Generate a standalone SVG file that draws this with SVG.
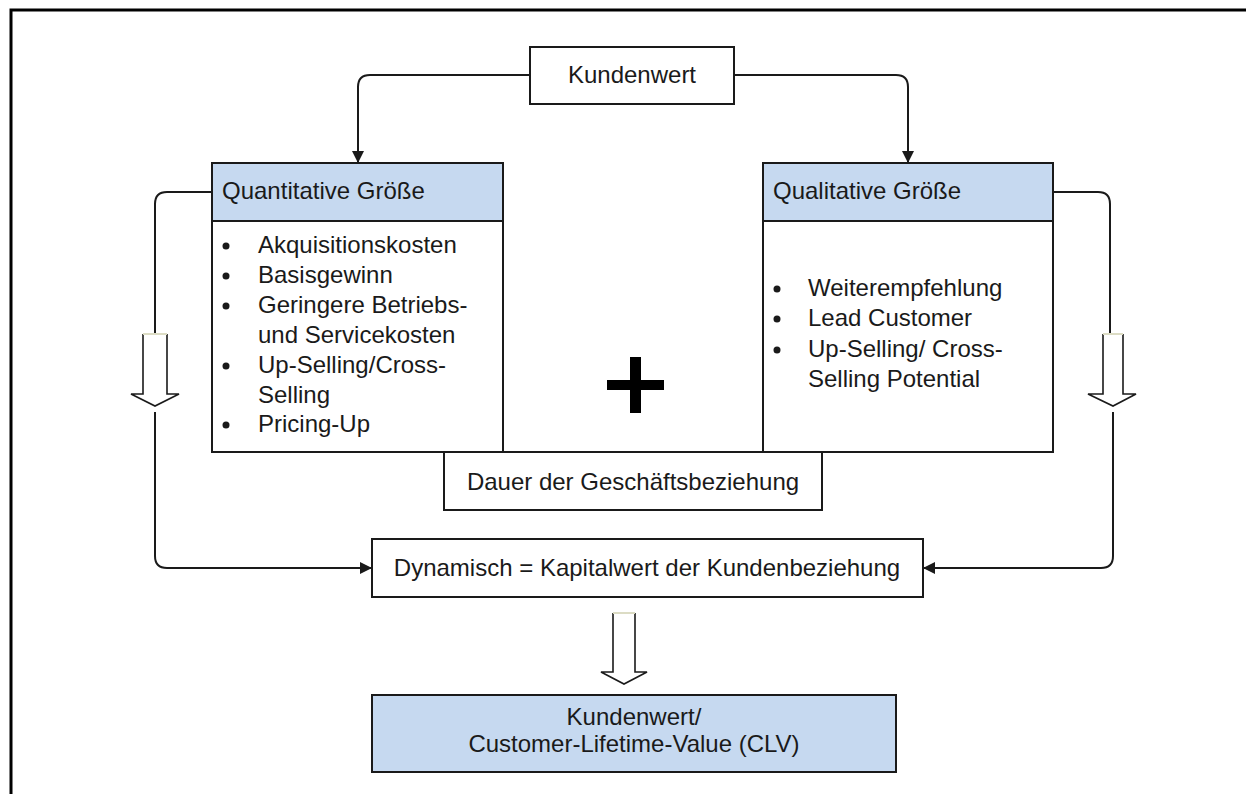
<svg xmlns="http://www.w3.org/2000/svg" width="1246" height="794" viewBox="0 0 1246 794">
  <style>
    .box { fill: #ffffff; stroke: #1a1a1a; stroke-width: 2; }
    .head { fill: #c6d9f0; stroke: #1a1a1a; stroke-width: 2; }
    .txt { font-family: "Liberation Sans", Arial, sans-serif; font-size: 24px; fill: #1a1a1a; }
    .mid { text-anchor: middle; }
    .wire { fill: none; stroke: #1a1a1a; stroke-width: 2; }
    .block { fill: #ffffff; stroke: #1a1a1a; stroke-width: 1.6; stroke-linejoin: miter; }
    .cap { stroke: #dcdcc4; stroke-width: 2; }
  </style>
  <defs>
    <marker id="tri" viewBox="0 0 12 12" refX="12" refY="6" markerWidth="12" markerHeight="12" markerUnits="userSpaceOnUse" orient="auto">
      <path d="M0,0 L12,6 L0,12 Z" fill="#1a1a1a"/>
    </marker>
  </defs>

  <rect x="0" y="0" width="1246" height="794" fill="#ffffff"/>
  <!-- frame -->
  <path d="M11,794 L11,10 L1246,10" fill="none" stroke="#000000" stroke-width="3"/>

  <!-- connectors -->
  <g id="connectors">
    <path class="wire" d="M530,75 L370,75 Q358,75 358,87 L358,163" marker-end="url(#tri)"/>
    <path class="wire" d="M734,75 L896,75 Q908,75 908,87 L908,163" marker-end="url(#tri)"/>
    <path class="wire" d="M212,192 L167,192 Q155,192 155,204 L155,335"/>
    <path class="wire" d="M155,412 L155,556 Q155,568 167,568 L372,568" marker-end="url(#tri)"/>
    <path class="wire" d="M1053,192 L1098,192 Q1110,192 1110,204 L1110,335"/>
    <path class="wire" d="M1113,412 L1113,556 Q1113,568 1101,568 L923,568" marker-end="url(#tri)"/>
    <!-- hollow block arrows -->
    <path class="block" d="M143,334 L143,394 L131,394 L155,406 L179,394 L167,394 L167,334"/>
    <line class="cap" x1="143" y1="334" x2="167" y2="334"/>
    <path class="block" d="M1103,334 L1103,394 L1088,394 L1113,406 L1136,394 L1123,394 L1123,334"/>
    <line class="cap" x1="1103" y1="334" x2="1123" y2="334"/>
    <path class="block" d="M613,613 L613,672 L601,672 L624,684 L647,672 L635,672 L635,613"/>
    <line class="cap" x1="613" y1="613" x2="635" y2="613"/>
  </g>

  <g id="kundenwert">
    <rect class="box" x="530" y="47" width="204" height="57"/>
    <text class="txt mid" x="632" y="83">Kundenwert</text>
  </g>

  <g id="quantitativ">
    <rect class="box" x="212" y="221" width="291" height="231"/>
    <rect class="head" x="212" y="163" width="291" height="58"/>
    <text class="txt" x="222" y="199">Quantitative Größe</text>
    <g class="txt">
      <circle cx="226" cy="246" r="3.5" fill="#1a1a1a"/>
      <text x="258" y="253">Akquisitionskosten</text>
      <circle cx="226" cy="276" r="3.5" fill="#1a1a1a"/>
      <text x="258" y="283">Basisgewinn</text>
      <circle cx="226" cy="306" r="3.5" fill="#1a1a1a"/>
      <text x="258" y="313">Geringere Betriebs-</text>
      <text x="258" y="343">und Servicekosten</text>
      <circle cx="226" cy="366" r="3.5" fill="#1a1a1a"/>
      <text x="258" y="373">Up-Selling/Cross-</text>
      <text x="258" y="403">Selling</text>
      <circle cx="226" cy="425" r="3.5" fill="#1a1a1a"/>
      <text x="258" y="432">Pricing-Up</text>
    </g>
  </g>

  <g id="qualitativ">
    <rect class="box" x="763" y="221" width="290" height="231"/>
    <rect class="head" x="763" y="163" width="290" height="58"/>
    <text class="txt" x="773" y="199">Qualitative Größe</text>
    <g class="txt">
      <circle cx="777" cy="289" r="3.5" fill="#1a1a1a"/>
      <text x="808" y="296">Weiterempfehlung</text>
      <circle cx="777" cy="319" r="3.5" fill="#1a1a1a"/>
      <text x="808" y="326">Lead Customer</text>
      <circle cx="777" cy="350" r="3.5" fill="#1a1a1a"/>
      <text x="808" y="357">Up-Selling/ Cross-</text>
      <text x="808" y="387">Selling Potential</text>
    </g>
  </g>

  <g id="plus">
    <rect x="607" y="380" width="57" height="10" fill="#000000"/>
    <rect x="630" y="357" width="11" height="56" fill="#000000"/>
  </g>

  <g id="dauer">
    <rect class="box" x="444" y="452" width="378" height="58"/>
    <text class="txt mid" x="633" y="490">Dauer der Geschäftsbeziehung</text>
  </g>

  <g id="dynamisch">
    <rect class="box" x="372" y="539" width="551" height="58"/>
    <text class="txt mid" x="647" y="576">Dynamisch = Kapitalwert der Kundenbeziehung</text>
  </g>

  <g id="clv">
    <rect class="head" x="372" y="695" width="524" height="77"/>
    <text class="txt mid" x="634" y="725">Kundenwert/</text>
    <text class="txt mid" x="634" y="752">Customer-Lifetime-Value (CLV)</text>
  </g>
</svg>
